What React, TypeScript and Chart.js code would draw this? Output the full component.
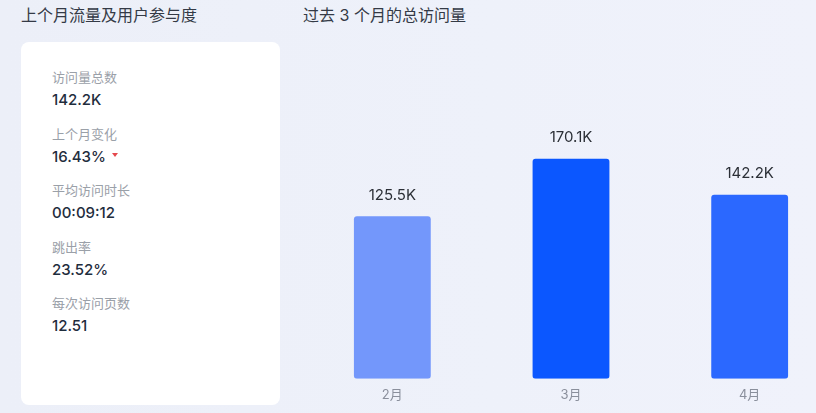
import { useEffect, useRef } from "react";
import { Chart, ChartConfiguration, Plugin } from "chart.js/auto";

const months = ["2月", "3月", "4月"];
const visits = [125.5, 170.1, 142.2];
const barColors = ["#7397FB", "#0B57FF", "#2B68FF"];

const statLabels = ["访问量总数", "上个月变化", "平均访问时长", "跳出率", "每次访问页数"];
const statValues = ["142.2K", "16.43%", "00:09:12", "23.52%", "12.51"];

const FONT = "Inter, 'Noto Sans CJK SC', sans-serif";

const valueLabels: Plugin<"bar"> = {
  id: "valueLabels",
  afterDatasetsDraw(chart) {
    const ctx = chart.ctx;
    const meta = chart.getDatasetMeta(0);
    ctx.save();
    ctx.font = `400 15px ${FONT}`;
    ctx.fillStyle = "#2b2f36";
    ctx.textAlign = "center";
    ctx.textBaseline = "middle";
    meta.data.forEach((bar, i) => {
      ctx.fillText(visits[i].toFixed(1) + "K", bar.x, bar.y - 21);
    });
    ctx.restore();
  },
};

function VisitsChart() {
  const canvasRef = useRef<HTMLCanvasElement>(null);
  const chartRef = useRef<Chart | null>(null);

  useEffect(() => {
    if (!canvasRef.current) return;
    if (chartRef.current) chartRef.current.destroy();
    const ctx = canvasRef.current.getContext("2d");
    if (!ctx) return;

    const config: ChartConfiguration<"bar"> = {
      type: "bar",
      data: {
        labels: months,
        datasets: [
          {
            data: visits,
            backgroundColor: barColors,
            borderRadius: 3,
            borderSkipped: false,
            barPercentage: 0.86,
            categoryPercentage: 0.5,
          },
        ],
      },
      options: {
        animation: false,
        responsive: true,
        maintainAspectRatio: false,
        layout: { padding: { top: 120, left: 0, right: 0, bottom: 0 } },
        plugins: { legend: { display: false }, tooltip: { enabled: false } },
        scales: {
          x: {
            grid: { display: false, drawTicks: false },
            border: { display: false },
            ticks: { color: "#8a8f9c", font: { family: FONT, size: 13 }, padding: 9 },
            afterFit: (axis) => {
              axis.height = 34.3;
            },
          },
          y: {
            display: false,
            min: 0,
            max: 200,
          },
        },
      },
      plugins: [valueLabels],
    };

    chartRef.current = new Chart(ctx, config);
    return () => {
      if (chartRef.current) {
        chartRef.current.destroy();
        chartRef.current = null;
      }
    };
  }, []);

  return (
    <div style={{ position: "absolute", left: 303, top: 0, width: 513, height: 413, overflow: "hidden" }}>
      <div style={{ position: "relative", width: 536, height: 413 }}>
        <canvas ref={canvasRef} />
      </div>
    </div>
  );
}

export default function App() {
  return (
    <div
      style={{
        position: "fixed",
        inset: 0,
        width: 816,
        height: 413,
        overflow: "hidden",
        background: "linear-gradient(90deg, #ECEFF8 0%, #EEF1FA 60%, #F0F2FB 100%)",
        fontFamily: FONT,
      }}
    >
      <div style={{ position: "absolute", left: 21, top: 5, fontSize: 16, color: "#343a46", lineHeight: "20px" }}>
        上个月流量及用户参与度
      </div>
      <div style={{ position: "absolute", left: 303, top: 5, fontSize: 16, color: "#343a46", lineHeight: "20px" }}>
        过去 3 个月的总访问量
      </div>
      <div
        style={{
          position: "absolute",
          left: 21,
          top: 42,
          width: 259,
          height: 363,
          background: "#ffffff",
          borderRadius: 8,
        }}
      >
        {statLabels.map((label, i) => (
          <div key={label} style={{ position: "absolute", left: 31, top: 25 + i * 56.5 }}>
            <div style={{ fontSize: 13, color: "#9aa0a8", lineHeight: "20px" }}>{label}</div>
            <div
              style={{
                fontSize: 15,
                fontWeight: 500,
                color: "#1f2d3d",
                lineHeight: "22px",
                marginTop: 2,
                display: "flex",
                alignItems: "center",
              }}
            >
              {statValues[i]}
              {i === 1 && (
                <span
                  style={{
                    display: "inline-block",
                    marginLeft: 6,
                    width: 0,
                    height: 0,
                    borderLeft: "3.5px solid transparent",
                    borderRight: "3.5px solid transparent",
                    borderTop: "4px solid #e5484d",
                    marginTop: -4,
                  }}
                />
              )}
            </div>
          </div>
        ))}
      </div>
      <VisitsChart />
    </div>
  );
}
